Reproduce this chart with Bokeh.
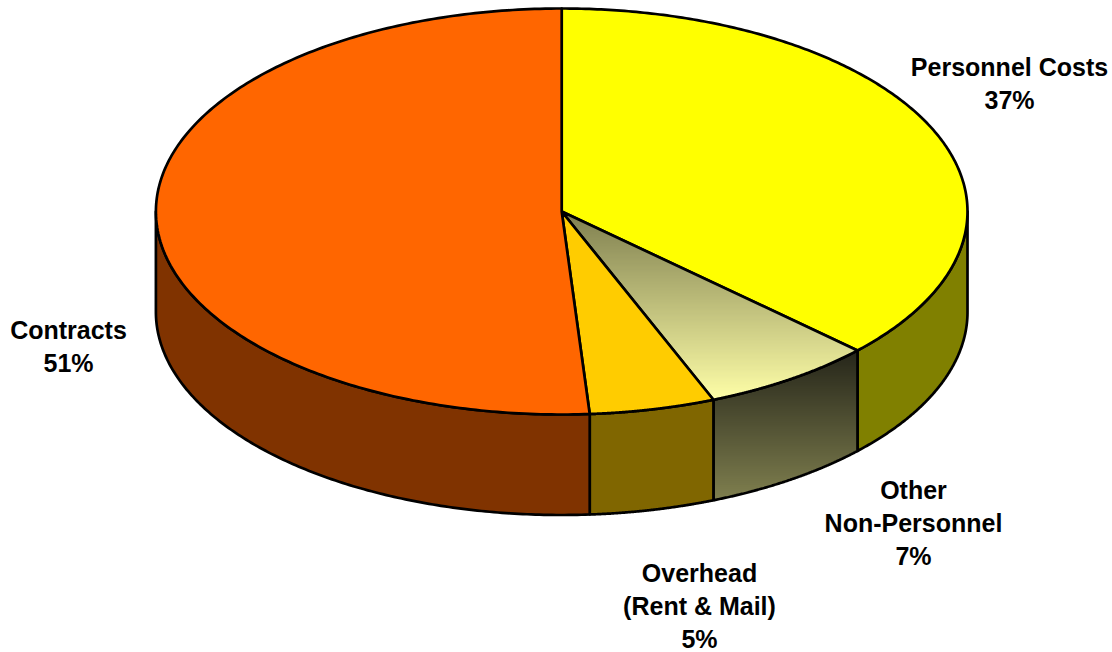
import numpy as np
from bokeh.plotting import figure
from bokeh.models import Range1d
from bokeh.core.properties import value
from bokeh.embed import file_html
from bokeh.resources import INLINE

categories = ["Personnel Costs", "Other Non-Personnel", "Overhead (Rent & Mail)", "Contracts"]
shares = [37.0, 6.9, 5.0, 51.1]
top_colors = ["#ffff00", None, "#ffcc00", "#ff6600"]
side_colors = ["#808000", None, "#806600", "#803300"]
label_lines = [["Personnel Costs", "37%"], ["Other", "Non-Personnel", "7%"],
               ["Overhead", "(Rent & Mail)", "5%"], ["Contracts", "51%"]]
label_centers = [(1009, 66), (913, 489), (699, 572), (68, 329)]
top_grad = ("#7f7f50", "#ffffa8")
side_grad = ("#26261a", "#80804f")

CX, CY, RX, RY, DEPTH = 561.2, 211.0, 405.8, 203.0, 100.5
LW = 2.7

p = figure(width=1112, height=652, output_backend="svg", toolbar_location=None,
           x_range=Range1d(0, 1112), y_range=Range1d(652, 0), min_border=0)
p.axis.visible = False
p.grid.visible = False
p.outline_line_color = None
p.background_fill_color = "#ffffff"


def pt(theta):
    return CX + RX * np.sin(theta), CY - RY * np.cos(theta)


def hexrgb(c):
    return np.array([int(c[i:i + 2], 16) for i in (1, 3, 5)], float)


def clip_below(xs, ys, y0):
    """Keep the part of a polygon with y >= y0 (screen-down)."""
    ox, oy = [], []
    n = len(xs)
    for i in range(n):
        a, b = (xs[i], ys[i]), (xs[(i + 1) % n], ys[(i + 1) % n])
        ain, bin_ = a[1] >= y0, b[1] >= y0
        if ain:
            ox.append(a[0]); oy.append(a[1])
        if ain != bin_:
            t = (y0 - a[1]) / (b[1] - a[1])
            ox.append(a[0] + t * (b[0] - a[0])); oy.append(y0)
    return ox, oy


def gradient(xs, ys, colors, y_start, y_end):
    c0, c1 = hexrgb(colors[0]), hexrgb(colors[1])
    fx, fy, fc = [], [], []
    for y in np.arange(min(ys), max(ys), 2.0):
        cx_, cy_ = clip_below(list(xs), list(ys), y)
        if len(cx_) < 3:
            continue
        t = float(np.clip((y - y_start) / (y_end - y_start), 0, 1))
        r, g, b = (c0 + t * (c1 - c0)).round().astype(int)
        fx.append(cx_); fy.append(cy_); fc.append(f"#{r:02x}{g:02x}{b:02x}")
    p.patches(fx, fy, fill_color=fc, line_color=None)


fracs = np.cumsum([0] + shares) / sum(shares)
angles = fracs * 2 * np.pi

# sides: only the front half of the disc (pi/2 .. 3pi/2) shows
for i in range(len(shares)):
    a0 = max(angles[i], np.pi / 2)
    a1 = min(angles[i + 1], 3 * np.pi / 2)
    if a1 <= a0:
        continue
    th = np.linspace(a0, a1, 160)
    x, y = pt(th)
    xs = np.r_[x, x[::-1]]
    ys = np.r_[y, y[::-1] + DEPTH]
    if side_colors[i] is None:
        p.patch(xs, ys, fill_color="#ffffff", line_color=None)
        gradient(xs, ys, side_grad, y.min(), (y + DEPTH).max())
        p.patch(xs, ys, fill_color=None, line_color="black", line_width=LW)
    else:
        p.patch(xs, ys, fill_color=side_colors[i], line_color="black", line_width=LW, line_join="round")

# top face
for i in range(len(shares)):
    th = np.linspace(angles[i], angles[i + 1], 240)
    x, y = pt(th)
    xs = np.r_[CX, x]
    ys = np.r_[CY, y]
    if top_colors[i] is None:
        gradient(xs, ys, top_grad, CY, y.max())
        p.patch(xs, ys, fill_color=None, line_color="black", line_width=LW, line_join="round")
    else:
        p.patch(xs, ys, fill_color=top_colors[i], line_color="black", line_width=LW, line_join="round")

# labels
for lines, (lx, ly) in zip(label_lines, label_centers):
    for j, s in enumerate(lines):
        p.text([lx], [ly + j * 33], text=[s], text_font=value("Liberation Sans"),
               text_font_style="bold", text_font_size="25px", text_color="black",
               text_align="center", text_baseline="middle")

open("out.html", "w").write(file_html(p, INLINE))
